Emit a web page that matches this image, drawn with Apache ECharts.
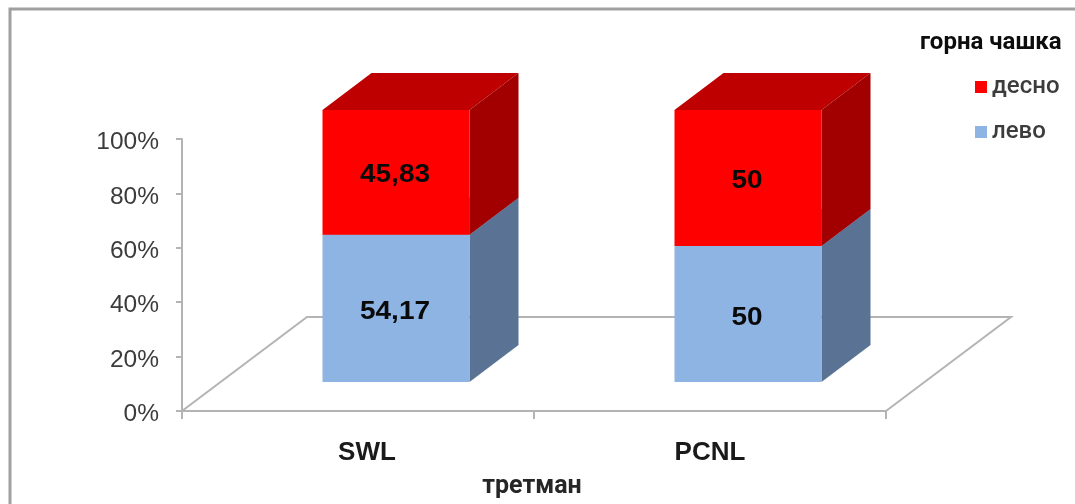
<!DOCTYPE html>
<html>
<head>
<meta charset="utf-8">
<style>html,body{margin:0;padding:0;background:#fff}#chart{width:1075px;height:504px}</style>
<script src="https://cdn.jsdelivr.net/npm/echarts@6/dist/echarts.min.js"></script>
</head>
<body>
<div id="chart"></div>
<script>
// Stacked percentage columns, drawn as boxes standing on a floor plane.
const categories = ['SWL', 'PCNL'];
const levo = [54.17, 50];
const desno = [45.83, 50];
const valueTicks = [0, 20, 40, 60, 80, 100];
const seriesNames = ['лево', 'десно'];
const legendTitle = 'горна чашка';
const axisTitle = 'третман';

const FONT = '"Liberation Sans", Arial, sans-serif';
const AXIS_GREY = '#b4b4b4';
const TEXT_GREY = '#3c3c3c';

// Oblique projection of the floor and of the boxes standing on it.
const FLOOR_DX = 125, FLOOR_DY = 94;
const BOX_SHIFT_X = 38, BOX_SHIFT_Y = 29;
const BOX_DEPTH_X = 49, BOX_DEPTH_Y = 37;
const BOX_WIDTH_RATIO = 147 / 352;

const palette = {
  levo: { front: '#8EB4E3', side: '#5A7394', top: '#6F8FB6' },
  desno: { front: '#FF0000', side: '#A20000', top: '#BE0000' }
};

function decimalComma(v) {
  return String(v).replace('.', ',');
}

function renderFloor(params, api) {
  const band = api.size([1, 0])[0];
  const a = api.coord([0, 0]);
  const b = api.coord([1, 0]);
  const left = a[0] - band / 2, right = b[0] + band / 2, y = a[1];
  return {
    type: 'polyline',
    shape: { points: [
      [left, y],
      [left + FLOOR_DX, y - FLOOR_DY],
      [right + FLOOR_DX, y - FLOOR_DY],
      [right, y]
    ] },
    style: { fill: null, stroke: AXIS_GREY, lineWidth: 2 }
  };
}

function boxRenderer(colors, labelNudge) {
  return function (params, api) {
    const index = api.value(0);
    const low = api.value(1);
    const high = api.value(2);
    const band = api.size([1, 0])[0];
    const w = band * BOX_WIDTH_RATIO;
    const p0 = api.coord([index, low]);
    const p1 = api.coord([index, high]);
    const x0 = p0[0] - w / 2 + BOX_SHIFT_X;
    const x1 = x0 + w;
    const yb = p0[1] - BOX_SHIFT_Y;
    const yt = p1[1] - BOX_SHIFT_Y;
    const dx = BOX_DEPTH_X, dy = BOX_DEPTH_Y;
    return {
      type: 'group',
      children: [
        { type: 'polygon', shape: { points: [[x0, yt], [x1, yt], [x1 + dx, yt - dy], [x0 + dx, yt - dy]] },
          style: { fill: colors.top } },
        { type: 'polygon', shape: { points: [[x1, yb], [x1 + dx, yb - dy], [x1 + dx, yt - dy], [x1, yt]] },
          style: { fill: colors.side } },
        { type: 'rect', shape: { x: x0, y: yt, width: w, height: yb - yt },
          style: { fill: colors.front } },
        { type: 'text', x: (x0 + x1) / 2 - 1, y: (yt + yb) / 2 + labelNudge, scaleX: 1.12,
          style: { text: decimalComma(api.value(3)), x: 0, y: 0, align: 'center',
                   verticalAlign: 'middle', font: 'bold 25px ' + FONT, fill: '#0a0a0a' } }
      ]
    };
  };
}

function stackedRows(values, bases) {
  return values.map((v, i) => [i, bases[i], bases[i] + v, v]);
}

const zeros = levo.map(() => 0);

const chart = echarts.init(document.getElementById('chart'), null, { renderer: 'canvas' });
chart.setOption({
  animation: false,
  backgroundColor: '#ffffff',
  title: {
    text: legendTitle,
    left: 915, top: 26,
    textStyle: { fontFamily: 'Roboto, ' + FONT, fontWeight: 'bold', fontSize: 24, color: '#0d0d0d' }
  },
  legend: {
    data: [seriesNames[1], seriesNames[0]],
    orient: 'vertical',
    left: 970, top: 70,
    itemWidth: 12, itemHeight: 12,
    itemGap: 21,
    icon: 'rect',
    textStyle: { fontFamily: 'Roboto, ' + FONT, fontWeight: 500, fontSize: 24, color: TEXT_GREY }
  },
  grid: { left: 182, right: 189, top: 139, bottom: 93 },
  xAxis: {
    type: 'category',
    data: categories,
    axisLine: { lineStyle: { color: AXIS_GREY, width: 2 } },
    axisTick: { show: true, alignWithLabel: false, length: 8, lineStyle: { color: AXIS_GREY, width: 2 } },
    axisLabel: {
      margin: 29,
      fontFamily: FONT, fontWeight: 'bold', fontSize: 26, color: '#1a1a1a',
      formatter: (name) => (name === categories[0] ? '{a|' + name + '}' : name),
      rich: { a: { padding: [0, 0, 0, 18], fontFamily: FONT, fontWeight: 'bold', fontSize: 26, color: '#1a1a1a' } }
    },
    name: axisTitle,
    nameLocation: 'middle',
    nameGap: 63,
    nameTextStyle: { fontFamily: 'Roboto, ' + FONT, fontWeight: 'bold', fontSize: 25, color: '#262626', padding: [0, 4, 0, 0] }
  },
  yAxis: {
    type: 'value',
    min: valueTicks[0],
    max: valueTicks[valueTicks.length - 1],
    interval: valueTicks[1] - valueTicks[0],
    splitLine: { show: false },
    axisLine: { show: true, lineStyle: { color: AXIS_GREY, width: 2 } },
    axisTick: { show: true, length: 6, lineStyle: { color: AXIS_GREY, width: 2 } },
    axisLabel: {
      margin: 23,
      formatter: '{p|{value}%}',
      rich: { p: { padding: [7, 0, 0, 0], fontFamily: FONT, fontSize: 24.5, color: TEXT_GREY } }
    }
  },
  graphic: [
    { type: 'polyline', silent: true, z: 10,
      shape: { points: [[10, 504], [10, 9], [1075, 9]] },
      style: { fill: null, stroke: '#a0a0a0', lineWidth: 3 } }
  ],
  series: [
    { type: 'custom', name: 'floor', silent: true, z: 1, renderItem: renderFloor,
      data: [[0, 0]], encode: { x: 0, y: 1 } },
    { type: 'custom', name: seriesNames[0], z: 2, renderItem: boxRenderer(palette.levo, 4),
      itemStyle: { color: palette.levo.front },
      data: stackedRows(levo, zeros), encode: { x: 0, y: [1, 2] } },
    { type: 'custom', name: seriesNames[1], z: 3, renderItem: boxRenderer(palette.desno, 3),
      itemStyle: { color: palette.desno.front },
      data: stackedRows(desno, levo), encode: { x: 0, y: [1, 2] } }
  ]
});
</script>
</body>
</html>
